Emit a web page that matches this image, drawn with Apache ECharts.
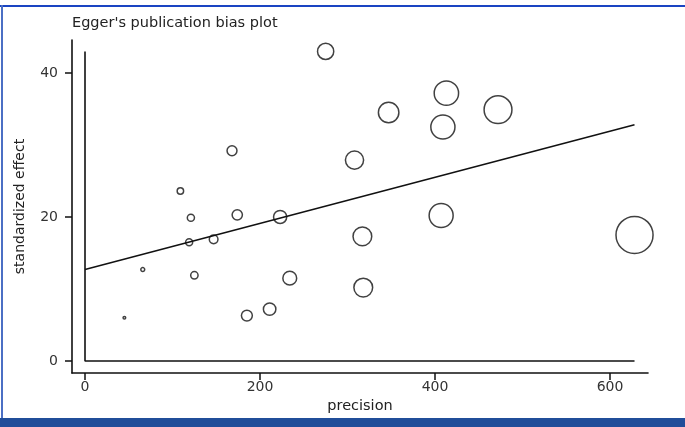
<!DOCTYPE html>
<html>
<head>
<meta charset="utf-8">
<script src="https://cdn.jsdelivr.net/npm/echarts@6/dist/echarts.min.js"></script>
<style>
html,body{margin:0;padding:0;background:#fff;}
#chart{width:685px;height:427px;}
</style>
</head>
<body>
<div id="chart"></div>
<script>
// Data
var precision = [45, 66, 121, 119, 125, 147, 174, 223, 234, 185, 211, 109, 168, 275, 308, 347, 413, 409, 472, 317, 318, 407, 628];
var stdEffect = [6.0, 12.7, 19.9, 16.5, 11.9, 16.9, 20.3, 20.0, 11.5, 6.3, 7.2, 23.6, 29.2, 43.0, 27.9, 34.5, 37.2, 32.5, 34.9, 17.3, 10.2, 20.2, 17.5];
var fitX = [0, 628];
var fitY = [12.7, 32.8];
var xTicks = [0, 200, 400, 600];
var yTicks = [0, 20, 40];

var points = precision.map(function (p, i) { return [p, stdEffect[i]]; });
var fitLine = fitX.map(function (x, i) { return [x, fitY[i]]; });
var maxP = Math.max.apply(null, precision);
var maxE = Math.max.apply(null, stdEffect);
var frame = [[0, maxE], [0, 0], [maxP, 0]];

var FONT = 'DejaVu Sans';
var chart = echarts.init(document.getElementById('chart'), null, {renderer: 'canvas'});
chart.setOption({
  backgroundColor: '#ffffff',
  animation: false,
  title: {
    text: "Egger's publication bias plot",
    left: 67, top: 11,
    textStyle: {fontFamily: FONT, fontSize: 14.5, fontWeight: 'normal', color: '#222'}
  },
  graphic: [
    {type: 'rect', shape: {x: 0, y: 5, width: 685, height: 2}, style: {fill: '#1a44c2'}, z: 100},
    {type: 'rect', shape: {x: 1, y: 5, width: 2, height: 413}, style: {fill: '#4b6fc4'}, z: 100},
    {type: 'rect', shape: {x: 0, y: 418, width: 685, height: 9}, style: {fill: '#204d99'}, z: 100}
  ],
  grid: {left: 72, right: 37, top: 40, bottom: 54, containLabel: false},
  xAxis: {
    type: 'value',
    min: -14.86, max: 643.4,
    name: 'precision',
    nameLocation: 'middle',
    nameGap: 22,
    nameTextStyle: {fontFamily: FONT, fontSize: 14.5, color: '#222'},
    axisLine: {show: true, onZero: false, lineStyle: {color: '#111', width: 1.6}},
    axisTick: {show: true, inside: false, length: 7, customValues: xTicks, lineStyle: {color: '#111', width: 1.5}},
    axisLabel: {show: true, margin: 7, customValues: xTicks, fontFamily: FONT, fontSize: 14, color: '#333'},
    splitLine: {show: false}
  },
  yAxis: {
    type: 'value',
    min: -1.67, max: 44.58,
    name: 'standardized effect',
    nameLocation: 'middle',
    nameGap: 45,
    nameRotate: 90,
    nameTextStyle: {fontFamily: FONT, fontSize: 14, color: '#222'},
    axisLine: {show: true, onZero: false, lineStyle: {color: '#111', width: 1.6}},
    axisTick: {show: true, inside: false, length: 7, customValues: yTicks, lineStyle: {color: '#111', width: 1.5}},
    axisLabel: {show: true, margin: 14, customValues: yTicks, fontFamily: FONT, fontSize: 14, color: '#333'},
    splitLine: {show: false}
  },
  series: [
    {
      type: 'line',
      data: frame,
      symbol: 'none',
      lineStyle: {color: '#111', width: 1.6},
      silent: true, z: 1
    },
    {
      type: 'line',
      data: fitLine,
      symbol: 'none',
      lineStyle: {color: '#111', width: 1.5},
      silent: true, z: 2
    },
    {
      type: 'scatter',
      data: points,
      symbol: 'circle',
      symbolSize: function (v) { return Math.max(2, v[0] * 0.059); },
      itemStyle: {color: 'rgba(255,255,255,0)', borderColor: '#111', borderWidth: 1.5},
      z: 3
    }
  ]
});
</script>
</body>
</html>
